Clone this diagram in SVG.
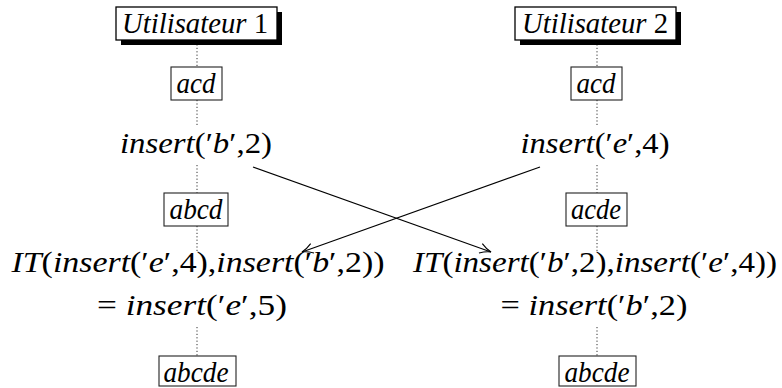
<svg xmlns="http://www.w3.org/2000/svg" width="782" height="388" viewBox="0 0 782 388">
<defs>
<style>
text{font-family:'Liberation Serif','Times New Roman',serif;font-size:29px;font-style:italic;fill:#000;text-anchor:middle}
.u{font-style:normal}
.box{fill:#fff;stroke:#222;stroke-width:1.1}
.head{fill:#fff;stroke:#000;stroke-width:1.3}
.shadow{fill:#000}
.life{stroke:#333;stroke-width:1;stroke-dasharray:1.2 2.2;fill:none}
.conn{stroke:#000;stroke-width:1.2;fill:none}
</style>
<marker id="arr" markerWidth="14" markerHeight="14" refX="0" refY="0" viewBox="-12 -7 14 14" orient="auto" markerUnits="userSpaceOnUse">
<path d="M-11,-5 Q-5,-1 0,0 Q-5,1 -11,5" fill="none" stroke="#000" stroke-width="1.1"/>
</marker>
</defs>
<g id="lifelines">
<path class="life" d="M197,41 V66 M197,100 V125 M197,165 V193 M197,226 V252 M197,327 V356"/>
<path class="life" d="M597,41 V66 M597,100 V125 M597,165 V193 M597,226 V252 M597,327 V356"/>
</g>
<g id="user1">
<rect class="shadow" x="121" y="12" width="161" height="33"/>
<rect class="head" x="116" y="7" width="161" height="33"/>
<text x="195" y="33" textLength="146" lengthAdjust="spacingAndGlyphs">Utilisateur <tspan class="u">1</tspan></text>
</g>
<g id="user2">
<rect class="shadow" x="520" y="12" width="161" height="33"/>
<rect class="head" x="515" y="7" width="161" height="33"/>
<text x="595" y="33" textLength="146" lengthAdjust="spacingAndGlyphs">Utilisateur <tspan class="u">2</tspan></text>
</g>
<g id="acd1">
<rect class="box" x="171" y="67" width="51" height="33"/>
<text x="196" y="93" textLength="39" lengthAdjust="spacingAndGlyphs">acd</text>
</g>
<g id="acd2">
<rect class="box" x="571" y="67" width="51" height="33"/>
<text x="596" y="93" textLength="39" lengthAdjust="spacingAndGlyphs">acd</text>
</g>
<g id="op1">
<text x="196" y="153" textLength="152" lengthAdjust="spacingAndGlyphs">insert<tspan class="u">(′</tspan>b<tspan class="u">′,2)</tspan></text>
</g>
<g id="op2">
<text x="595" y="153" textLength="149" lengthAdjust="spacingAndGlyphs">insert<tspan class="u">(′</tspan>e<tspan class="u">′,4)</tspan></text>
</g>
<g id="abcd">
<rect class="box" x="164" y="193" width="64" height="33"/>
<text x="196" y="219" textLength="53" lengthAdjust="spacingAndGlyphs">abcd</text>
</g>
<g id="acde">
<rect class="box" x="566" y="193" width="61" height="33"/>
<text x="596" y="219" textLength="50" lengthAdjust="spacingAndGlyphs">acde</text>
</g>
<g id="it1">
<text x="198" y="272" textLength="373" lengthAdjust="spacingAndGlyphs">IT<tspan class="u">(</tspan>insert<tspan class="u">(′</tspan>e<tspan class="u">′,4),</tspan>insert<tspan class="u">(′</tspan>b<tspan class="u">′,2))</tspan></text>
<text x="192" y="315" textLength="190" lengthAdjust="spacingAndGlyphs"><tspan class="u">= </tspan>insert<tspan class="u">(′</tspan>e<tspan class="u">′,5)</tspan></text>
</g>
<g id="it2">
<text x="595" y="272" textLength="364" lengthAdjust="spacingAndGlyphs">IT<tspan class="u">(</tspan>insert<tspan class="u">(′</tspan>b<tspan class="u">′,2),</tspan>insert<tspan class="u">(′</tspan>e<tspan class="u">′,4))</tspan></text>
<text x="594" y="315" textLength="187" lengthAdjust="spacingAndGlyphs"><tspan class="u">= </tspan>insert<tspan class="u">(′</tspan>b<tspan class="u">′,2)</tspan></text>
</g>
<g id="abcde1">
<rect class="box" x="159" y="356" width="77" height="30"/>
<text x="196" y="382" textLength="65" lengthAdjust="spacingAndGlyphs">abcde</text>
</g>
<g id="abcde2">
<rect class="box" x="559" y="356" width="77" height="30"/>
<text x="597" y="382" textLength="65" lengthAdjust="spacingAndGlyphs">abcde</text>
</g>
<g id="connectors">
<line class="conn" x1="253" y1="167" x2="491" y2="252" marker-end="url(#arr)"/>
<line class="conn" x1="540" y1="167" x2="302" y2="252" marker-end="url(#arr)"/>
</g>
</svg>
